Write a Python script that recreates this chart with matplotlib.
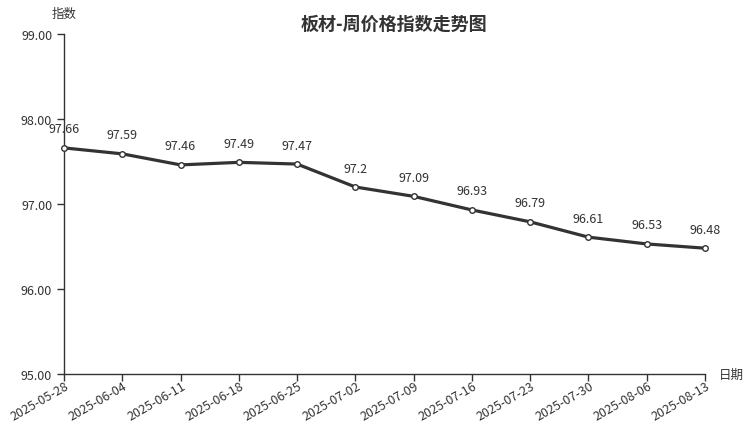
import matplotlib
matplotlib.use("Agg")
import matplotlib.pyplot as plt
import matplotlib.transforms as mtrans

plt.rcParams['font.family'] = ['Noto Sans CJK SC', 'DejaVu Sans']

dates = ["2025-05-28", "2025-06-04", "2025-06-11", "2025-06-18", "2025-06-25",
         "2025-07-02", "2025-07-09", "2025-07-16", "2025-07-23", "2025-07-30",
         "2025-08-06", "2025-08-13"]
values = [97.66, 97.59, 97.46, 97.49, 97.47, 97.2, 97.09, 96.93, 96.79, 96.61, 96.53, 96.48]
yticks = [95.0, 96.0, 97.0, 98.0, 99.0]

txt = '#333333'
fig = plt.figure(figsize=(7.52, 4.27), dpi=100)
ax = fig.add_axes([64/752, 1-375/427, (705-64)/752, (375-35)/427])

x = list(range(len(dates)))
ax.plot(x, values, color='#333333', lw=2.3, marker='o', markersize=4,
        markerfacecolor='white', markeredgecolor='#333333', markeredgewidth=1, zorder=3,
        clip_on=False)
for xi, v in zip(x, values):
    ax.annotate(f"{v:g}", (xi, v), xytext=(0, 9), textcoords='offset points',
                ha='center', va='bottom', fontsize=9, color=txt)

ax.set_xlim(0, len(dates)-1)
ax.set_ylim(95, 99)
ax.set_yticks(yticks)
ax.set_yticklabels([f"{t:.2f}" for t in yticks])
ax.set_xticks(x)
ax.set_xticklabels(dates, rotation=30, ha='right', va='center', rotation_mode='anchor')
ax.tick_params(axis='both', labelsize=9, labelcolor=txt, color='#333333', length=5, width=1)
ax.tick_params(axis='x', pad=1)
shift = mtrans.ScaledTranslation(4/100, -2/100, fig.dpi_scale_trans)
for lbl in ax.get_xticklabels():
    lbl.set_transform(lbl.get_transform() + shift)
for s in ['top', 'right']:
    ax.spines[s].set_visible(False)
for s in ['left', 'bottom']:
    ax.spines[s].set_color('#333333')
    ax.spines[s].set_linewidth(1)

fig.text(64/752, 1-14/427, "指数", ha='center', va='center', fontsize=9, color=txt)
fig.text(731/752, 1-375/427, "日期", ha='center', va='center', fontsize=9, color=txt)
fig.text(394/752, 1-24/427, "板材-周价格指数走势图", ha='center', va='center',
         fontsize=13, fontweight='bold', color=txt)

fig.savefig("out.png", dpi=100)
